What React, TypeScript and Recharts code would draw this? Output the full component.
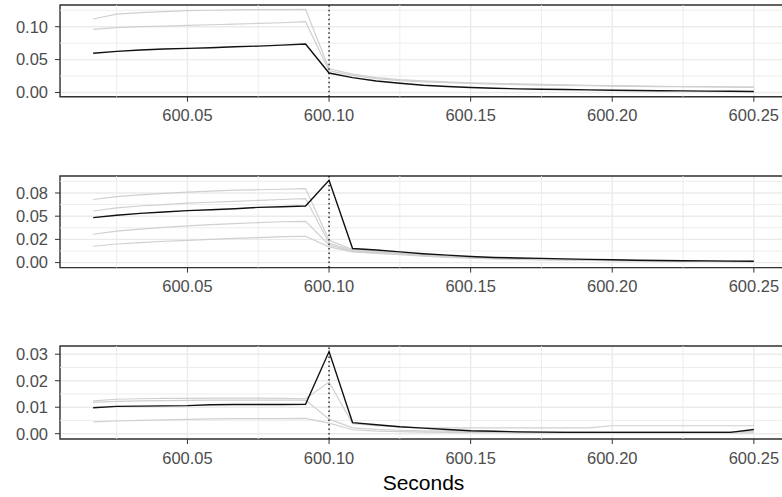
import * as React from "react";
import {
  LineChart,
  Line,
  XAxis,
  YAxis,
  CartesianGrid,
  ReferenceLine,
  ReferenceArea,
} from "recharts";

// sample times (s)
const seconds = [
  600.0167, 600.025, 600.0333, 600.0417, 600.05, 600.0583, 600.0667, 600.075, 600.0833, 600.0917,
  600.1, 600.1083, 600.1167, 600.125, 600.1333, 600.1417, 600.15, 600.1583, 600.1667, 600.175,
  600.1833, 600.1917, 600.2, 600.2083, 600.2167, 600.225, 600.2333, 600.2417, 600.25,
];

const xTicks = [600.05, 600.1, 600.15, 600.2, 600.25];
const xMinor = [600.025, 600.075, 600.125, 600.175, 600.225];
const xDomain = [600.005, 600.2617];

// panel 1
const p1Black = [
  0.0596, 0.0625, 0.0645, 0.066, 0.067, 0.068, 0.0695, 0.0705, 0.072, 0.0737,
  0.0296, 0.0225, 0.0175, 0.014, 0.011, 0.009, 0.0075, 0.0065, 0.0055, 0.005,
  0.0045, 0.004, 0.0035, 0.003, 0.0027, 0.0024, 0.0021, 0.0018, 0.0015,
];
const p1Grey1 = [
  0.1117, 0.119, 0.1215, 0.123, 0.1245, 0.125, 0.1255, 0.126, 0.126, 0.1264,
  0.036, 0.028, 0.0225, 0.0195, 0.0175, 0.016, 0.0148, 0.0138, 0.013, 0.0122,
  0.0115, 0.011, 0.0105, 0.01, 0.0095, 0.009, 0.0088, 0.0085, 0.0082,
];
const p1Grey2 = [
  0.096, 0.0985, 0.1, 0.101, 0.102, 0.103, 0.104, 0.105, 0.106, 0.1076,
  0.033, 0.026, 0.021, 0.018, 0.0162, 0.015, 0.0138, 0.0128, 0.012, 0.0113,
  0.0107, 0.0102, 0.0097, 0.0093, 0.009, 0.0087, 0.0084, 0.0081, 0.0079,
];
const p1Ticks = [0, 0.05, 0.1];
const p1Labels = ["0.00", "0.05", "0.10"];
const p1Minor = [0.025, 0.075, 0.125];

// panel 2
const p2Black = [
  0.0485, 0.051, 0.053, 0.0545, 0.056, 0.057, 0.058, 0.0595, 0.0602, 0.061,
  0.0887, 0.0151, 0.0135, 0.0115, 0.0095, 0.008, 0.0065, 0.0055, 0.005, 0.0045,
  0.004, 0.0035, 0.003, 0.0025, 0.0022, 0.002, 0.0018, 0.0016, 0.0015,
];
const p2Grey1 = [
  0.068, 0.071, 0.073, 0.0745, 0.076, 0.077, 0.078, 0.0785, 0.079, 0.0797,
  0.024, 0.014, 0.012, 0.01, 0.0085, 0.007, 0.006, 0.005, 0.0045, 0.004,
  0.0035, 0.003, 0.0027, 0.0024, 0.0021, 0.0019, 0.0017, 0.0015, 0.0014,
];
const p2Grey2 = [
  0.0556, 0.059, 0.061, 0.0625, 0.064, 0.065, 0.066, 0.067, 0.068, 0.069,
  0.021, 0.013, 0.011, 0.0095, 0.008, 0.0065, 0.0055, 0.0047, 0.004, 0.0035,
  0.003, 0.0027, 0.0024, 0.0021, 0.0019, 0.0017, 0.0015, 0.0013, 0.0012,
];
const p2Grey3 = [
  0.0305, 0.034, 0.036, 0.038, 0.0395, 0.041, 0.042, 0.043, 0.044, 0.0445,
  0.019, 0.012, 0.0105, 0.009, 0.0075, 0.006, 0.005, 0.0043, 0.0037, 0.0032,
  0.0028, 0.0025, 0.0022, 0.002, 0.0018, 0.0016, 0.0014, 0.0012, 0.0011,
];
const p2Grey4 = [
  0.0176, 0.02, 0.0215, 0.023, 0.024, 0.025, 0.026, 0.027, 0.028, 0.0283,
  0.017, 0.0115, 0.01, 0.0085, 0.007, 0.0057, 0.0047, 0.004, 0.0035, 0.003,
  0.0026, 0.0023, 0.002, 0.0018, 0.0016, 0.0014, 0.0013, 0.0011, 0.001,
];
const p2Ticks = [0, 0.025, 0.05, 0.075];
const p2Labels = ["0.00", "0.02", "0.05", "0.08"];
const p2Minor = [0.0125, 0.0375, 0.0625, 0.0875];

// panel 3
const p3Black = [
  0.0098, 0.0103, 0.0104, 0.0105, 0.0106, 0.0109, 0.011, 0.011, 0.011, 0.0111,
  0.031, 0.0042, 0.0034, 0.0026, 0.0021, 0.0016, 0.0011, 0.0009, 0.0007, 0.0006,
  0.0005, 0.0005, 0.0005, 0.0005, 0.0005, 0.0005, 0.0005, 0.0005, 0.0016,
];
const p3Grey1 = [
  0.0124, 0.013, 0.0132, 0.0133, 0.0133, 0.0134, 0.0134, 0.0134, 0.0133, 0.0132,
  0.0195, 0.0038, 0.003, 0.0025, 0.0022, 0.0022, 0.0022, 0.0022, 0.0022, 0.0022,
  0.0022, 0.0022, 0.003, 0.003, 0.003, 0.003, 0.003, 0.003, 0.003,
];
const p3Grey2 = [
  0.0118, 0.0122, 0.0124, 0.0125, 0.0126, 0.0127, 0.0127, 0.0127, 0.0127, 0.0127,
  0.0055, 0.0022, 0.0016, 0.0013, 0.0011, 0.001, 0.0009, 0.0009, 0.0008, 0.0008,
  0.0008, 0.0008, 0.0008, 0.0008, 0.0008, 0.0008, 0.0008, 0.0008, 0.0008,
];
const p3Grey3 = [
  0.0045, 0.0048, 0.005, 0.0052, 0.0054, 0.0056, 0.0057, 0.0057, 0.0057, 0.0058,
  0.004, 0.0015, 0.001, 0.0008, 0.0006, 0.0005, 0.0004, 0.0004, 0.0003, 0.0003,
  0.0003, 0.0003, 0.0003, 0.0003, 0.0003, 0.0003, 0.0003, 0.0003, 0.0003,
];
const p3Ticks = [0, 0.01, 0.02, 0.03];
const p3Labels = ["0.00", "0.01", "0.02", "0.03"];
const p3Minor = [0.005, 0.015, 0.025];

const FONT = "'Liberation Sans', Arial, sans-serif";
const GRID = "#EBEBEB";
const GREY_LINE = "#D0D0D0";

interface PanelProps {
  top: number;
  plotHeight: number;
  black: number[];
  greys: number[][];
  yDomain: [number, number];
  yTicks: number[];
  yLabels: string[];
  yMinor: number[];
  title?: string;
}

function Panel({ top, plotHeight, black, greys, yDomain, yTicks, yLabels, yMinor, title }: PanelProps) {
  const rows = React.useMemo(
    () =>
      seconds.map((t, i) => {
        const row: Record<string, number> = { t, black: black[i] };
        greys.forEach((g, k) => (row["g" + k] = g[i]));
        return row;
      }),
    [black, greys],
  );
  const axisH = title ? 60 : 34;
  const height = 5 + plotHeight + axisH;

  return (
    <div style={{ position: "absolute", left: 0, top: top - 5 }}>
      <LineChart width={800} height={height} data={rows} margin={{ top: 5, right: 13, left: 0, bottom: 0 }}>
        <CartesianGrid stroke={GRID} strokeWidth={1.4} />
        {xMinor.map((v) => (
          <ReferenceLine key={"xm" + v} x={v} stroke={GRID} strokeWidth={0.9} />
        ))}
        {yMinor.map((v) => (
          <ReferenceLine key={"ym" + v} y={v} stroke={GRID} strokeWidth={0.9} />
        ))}
        <XAxis
          dataKey="t"
          type="number"
          domain={xDomain}
          allowDataOverflow
          ticks={xTicks}
          interval={0}
          tickFormatter={(v: number) => v.toFixed(2)}
          height={axisH}
          axisLine={false}
          tickLine={{ stroke: "#333333" }}
          tickSize={5}
          tickMargin={8}
          tick={{ fontSize: 16.5, fill: "#4D4D4D", fontFamily: FONT }}
          label={
            title
              ? { value: title, position: "insideBottom", offset: 9, fontSize: 21, fill: "#000", fontFamily: FONT }
              : undefined
          }
        />
        <YAxis
          type="number"
          domain={yDomain}
          allowDataOverflow
          ticks={yTicks}
          interval={0}
          tickFormatter={(v: number) => yLabels[yTicks.indexOf(v)] ?? ""}
          width={60}
          axisLine={false}
          tickLine={{ stroke: "#333333" }}
          tickSize={5}
          tickMargin={7}
          tick={{ fontSize: 16.5, fill: "#4D4D4D", fontFamily: FONT }}
        />
        {greys.map((_, k) => (
          <Line
            key={"g" + k}
            dataKey={"g" + k}
            type="linear"
            stroke={GREY_LINE}
            strokeWidth={1.2}
            dot={false}
            isAnimationActive={false}
          />
        ))}
        <Line dataKey="black" type="linear" stroke="#111111" strokeWidth={1.4} dot={false} isAnimationActive={false} />
        <ReferenceLine x={600.1} stroke="#000" strokeWidth={1.2} strokeDasharray="1.5 3" />
        <ReferenceArea
          x1={xDomain[0]}
          x2={xDomain[1]}
          y1={yDomain[0]}
          y2={yDomain[1]}
          fill="none"
          fillOpacity={0}
          stroke="#333333"
          strokeWidth={1.4}
        />
      </LineChart>
    </div>
  );
}

export default function App() {
  return (
    <div
      style={{
        position: "absolute",
        left: 0,
        top: 0,
        width: 782,
        height: 497,
        overflow: "hidden",
        background: "#fff",
      }}
    >
      <Panel
        top={5}
        plotHeight={91.7}
        black={p1Black}
        greys={[p1Grey1, p1Grey2]}
        yDomain={[-0.0064, 0.133]}
        yTicks={p1Ticks}
        yLabels={p1Labels}
        yMinor={p1Minor}
      />
      <Panel
        top={175.7}
        plotHeight={91.6}
        black={p2Black}
        greys={[p2Grey1, p2Grey2, p2Grey3, p2Grey4]}
        yDomain={[-0.0054, 0.0933]}
        yTicks={p2Ticks}
        yLabels={p2Labels}
        yMinor={p2Minor}
      />
      <Panel
        top={346}
        plotHeight={93}
        black={p3Black}
        greys={[p3Grey1, p3Grey2, p3Grey3]}
        yDomain={[-0.002, 0.0331]}
        yTicks={p3Ticks}
        yLabels={p3Labels}
        yMinor={p3Minor}
        title="Seconds"
      />
    </div>
  );
}
